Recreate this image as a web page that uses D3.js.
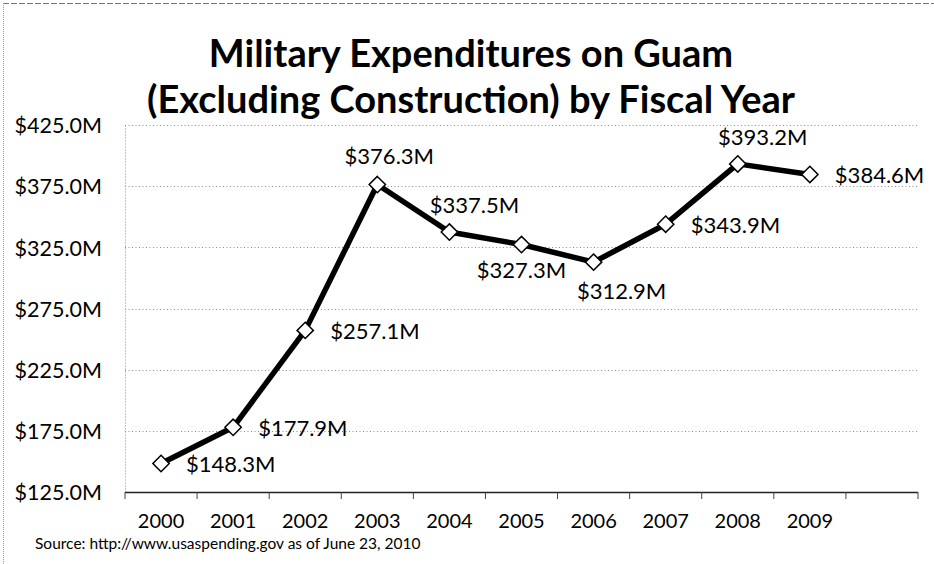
<!DOCTYPE html>
<html>
<head>
<meta charset="utf-8">
<script src="https://cdn.jsdelivr.net/npm/d3@7"></script>
<style>
  html, body { margin: 0; padding: 0; background: #fff; }
  svg { display: block; }
  text { font-family: Lato, "Open Sans", sans-serif; fill: #000; }
</style>
</head>
<body>
<svg id="chart" width="934" height="564"></svg>
<script>
// Fiscal years and spending (millions of dollars)
const years = ["2000", "2001", "2002", "2003", "2004", "2005", "2006", "2007", "2008", "2009"];
const spending = [148.3, 177.9, 257.1, 376.3, 337.5, 327.3, 312.9, 343.9, 393.2, 384.6];
// Where each value label sits relative to its marker
const labelPlacement = ["right", "right", "right", "above", "above-right", "below", "below-right", "right", "above-right", "right"];
const yTicks = [125, 175, 225, 275, 325, 375, 425];
const titleLines = ["Military Expenditures on Guam", "(Excluding Construction) by Fiscal Year"];
const sourceNote = "Source: http://www.usaspending.gov  as of June 23, 2010";

const svg = d3.select("#chart");
const W = 934, H = 564;
const plot = { left: 125, right: 918, top: 125, bottom: 492 };

// Frame edges
svg.append("line").attr("x1", 3).attr("x2", W).attr("y1", 3.5).attr("y2", 3.5)
  .attr("stroke", "#777").attr("stroke-width", 1.2).attr("stroke-dasharray", "6,2");
svg.append("line").attr("x1", 3.5).attr("x2", 3.5).attr("y1", 3).attr("y2", H)
  .attr("stroke", "#999").attr("stroke-width", 1).attr("stroke-dasharray", "1,1");

// One extra empty slot after the last year, as in the original layout
const slots = years.concat([""]);
const x = d3.scaleBand().domain(d3.range(slots.length)).range([plot.left, plot.right]);
const y = d3.scaleLinear().domain([125, 425]).range([plot.bottom, plot.top]);
const cx = i => x(i) + x.bandwidth() / 2;

// Horizontal gridlines
svg.append("g").selectAll("line").data(yTicks.filter(v => v > 125)).join("line")
  .attr("x1", plot.left).attr("x2", plot.right)
  .attr("y1", d => Math.round(y(d)) + 0.5).attr("y2", d => Math.round(y(d)) + 0.5)
  .attr("stroke", "#8a8a8a").attr("stroke-width", 1).attr("stroke-dasharray", "1,2.5");

// Y axis
const yAxis = d3.axisLeft(y).tickValues(yTicks).tickSize(0).tickPadding(23)
  .tickFormat(d => "$" + d3.format(".1f")(d) + "M");
const gy = svg.append("g").attr("transform", `translate(${plot.left},0)`).call(yAxis);
gy.select(".domain").attr("stroke", "#8a8a8a").attr("stroke-dasharray", "1,2");
gy.selectAll("text").attr("font-size", 21.5).attr("font-family", "Lato, sans-serif").attr("dy", "0.36em");

// X axis with ticks at category boundaries
const gx = svg.append("g").attr("transform", `translate(0,${plot.bottom})`);
gx.append("line").attr("x1", plot.left).attr("x2", plot.right).attr("y1", 0.5).attr("y2", 0.5)
  .attr("stroke", "#222").attr("stroke-width", 1.6);
gx.selectAll("line.tick").data(d3.range(slots.length + 1)).join("line").attr("class", "tick")
  .attr("x1", i => i < slots.length ? x(i) : plot.right)
  .attr("x2", i => i < slots.length ? x(i) : plot.right)
  .attr("y1", 0).attr("y2", 7).attr("stroke", "#444").attr("stroke-width", 1);
gx.selectAll("text").data(years).join("text")
  .attr("x", (d, i) => cx(i)).attr("y", 36)
  .attr("text-anchor", "middle").attr("font-size", 20).text(d => d);

// Spending line
const line = d3.line().x((d, i) => cx(i)).y(d => y(d));
svg.append("path").datum(spending).attr("d", line)
  .attr("fill", "none").attr("stroke", "#000").attr("stroke-width", 5.5)
  .attr("stroke-linejoin", "round");

// Diamond markers
const diamond = d3.symbol().type(d3.symbolDiamond2).size(170);
svg.append("g").selectAll("path").data(spending).join("path")
  .attr("d", diamond)
  .attr("transform", (d, i) => `translate(${cx(i)},${y(d)})`)
  .attr("fill", "#fff").attr("stroke", "#000").attr("stroke-width", 1.5);

// Value labels
const fmt = v => "$" + d3.format(".1f")(v) + "M";
const offsets = {
  "right": { dx: 25, dy: 1, anchor: "start" },
  "above": { dx: 12, dy: -28, anchor: "middle" },
  "above-right": { dx: 25, dy: -27, anchor: "middle" },
  "below": { dx: 0, dy: 26, anchor: "middle" },
  "below-right": { dx: 28, dy: 29, anchor: "middle" }
};
svg.append("g").selectAll("text").data(spending).join("text")
  .attr("x", (d, i) => cx(i) + offsets[labelPlacement[i]].dx)
  .attr("y", (d, i) => y(d) + offsets[labelPlacement[i]].dy)
  .attr("dy", "0.36em")
  .attr("text-anchor", (d, i) => offsets[labelPlacement[i]].anchor)
  .attr("font-size", 22).text(fmt);

// Title
svg.append("g").selectAll("text").data(titleLines).join("text")
  .attr("x", 471).attr("y", (d, i) => 67 + i * 46)
  .attr("text-anchor", "middle").attr("font-weight", 700).attr("font-size", 38)
  .text(d => d);

// Source note
svg.append("text").attr("x", 35).attr("y", 549).attr("font-size", 15.5).text(sourceNote);
</script>
</body>
</html>
